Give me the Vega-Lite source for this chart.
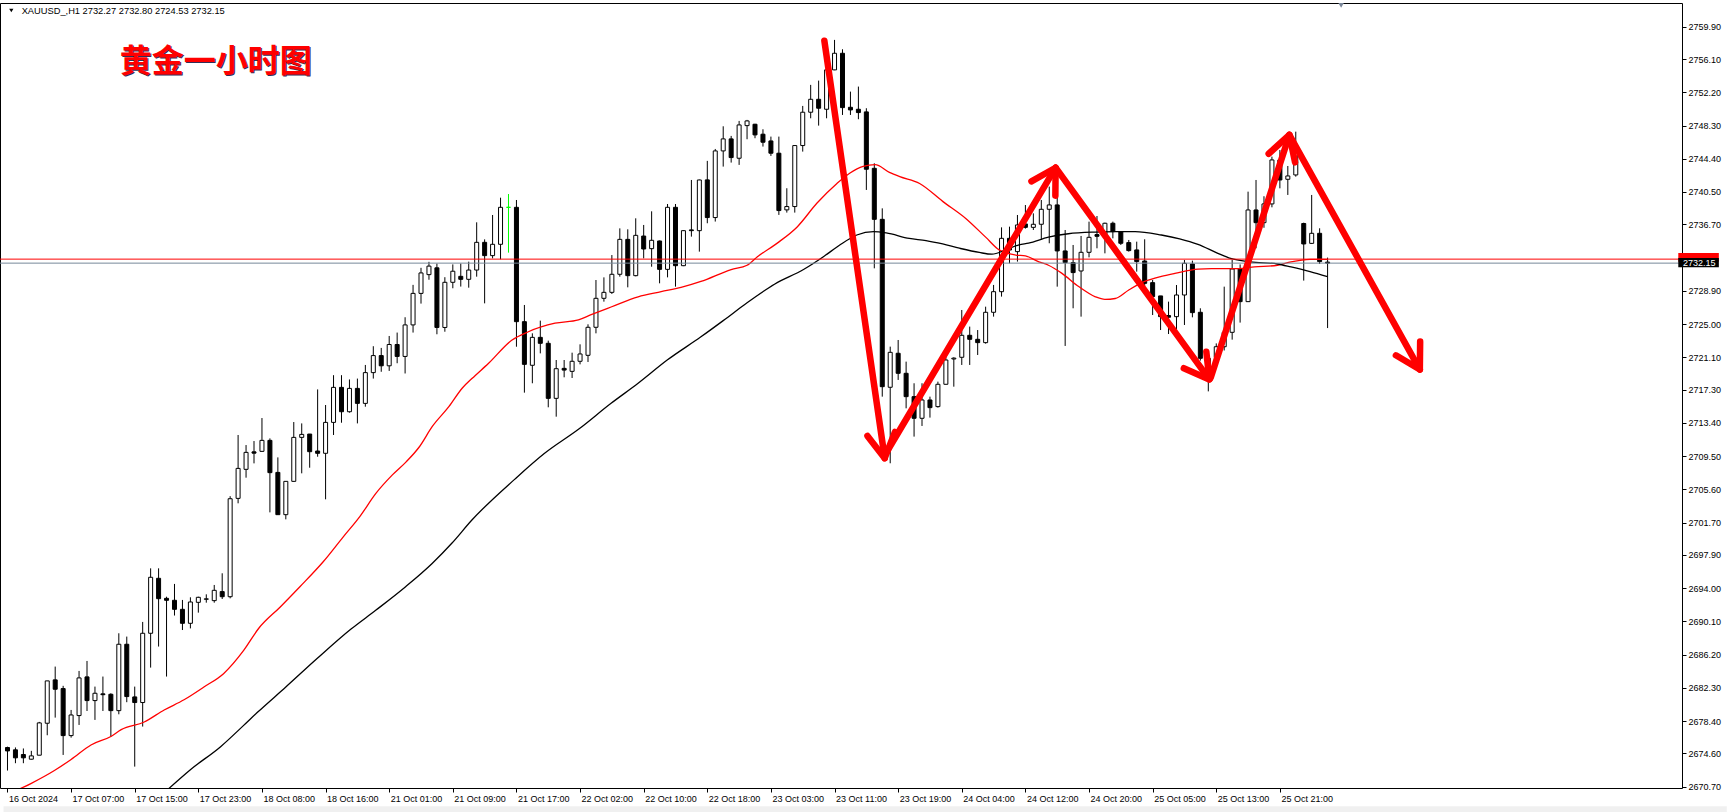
{
"$schema": "https://vega.github.io/schema/vega-lite/v6.json",
"width": 1682, "height": 785,
"autosize": {"type": "none"},
"padding": {"left": 0, "top": 3, "right": 48, "bottom": 24},
"background": "white",
"view": {"stroke": "black", "strokeWidth": 1},
"config": {
"axis": {"grid": false, "domain": false, "tickSize": 4, "tickColor": "black", "labelColor": "black", "labelFont": "Liberation Sans", "labelFontSize": 9, "labelOverlap": false, "labelFlush": false, "labelBound": false, "title": null},
"axisX": {"labelAlign": "left", "labelBaseline": "top", "labelPadding": 2, "labelOffset": 1},
"axisY": {"labelPadding": 2}
},
"datasets": {
"candles": [
{"k":0,"o":2675.3,"h":2675.4,"l":2672.6,"c":2674.9},
{"k":1,"o":2675.03,"h":2675.31,"l":2673.46,"c":2674.09},
{"k":2,"o":2674.48,"h":2675.19,"l":2673.46,"c":2674.09},
{"k":3,"o":2673.93,"h":2674.91,"l":2673.9,"c":2674.32},
{"k":4,"o":2674.4,"h":2678.31,"l":2674.4,"c":2678.19},
{"k":5,"o":2678.15,"h":2683.12,"l":2676.74,"c":2683.12},
{"k":6,"o":2683.24,"h":2684.8,"l":2678.81,"c":2682.14},
{"k":7,"o":2682.22,"h":2682.54,"l":2674.43,"c":2676.7},
{"k":8,"o":2676.7,"h":2679.71,"l":2676.46,"c":2679.12},
{"k":9,"o":2679.05,"h":2684.29,"l":2677.95,"c":2683.47},
{"k":10,"o":2683.59,"h":2685.46,"l":2679.59,"c":2680.81},
{"k":11,"o":2680.81,"h":2682.45,"l":2678.54,"c":2681.67},
{"k":12,"o":2681.6,"h":2683.63,"l":2679.59,"c":2681.5},
{"k":13,"o":2681.55,"h":2681.67,"l":2676.58,"c":2679.63},
{"k":14,"o":2679.63,"h":2688.71,"l":2679.2,"c":2687.42},
{"k":15,"o":2687.42,"h":2688.32,"l":2680.62,"c":2681.28},
{"k":16,"o":2681.24,"h":2682.45,"l":2673.06,"c":2680.58},
{"k":17,"o":2680.58,"h":2690.04,"l":2677.76,"c":2688.71},
{"k":18,"o":2688.71,"h":2696.33,"l":2684.68,"c":2695.28},
{"k":19,"o":2695.16,"h":2696.33,"l":2687.15,"c":2692.77},
{"k":20,"o":2692.81,"h":2693.0,"l":2683.63,"c":2692.58},
{"k":21,"o":2692.58,"h":2694.5,"l":2690.79,"c":2691.52},
{"k":22,"o":2691.52,"h":2692.62,"l":2689.09,"c":2689.88},
{"k":23,"o":2689.88,"h":2692.93,"l":2689.28,"c":2692.38},
{"k":24,"o":2692.34,"h":2693.0,"l":2691.13,"c":2692.93},
{"k":25,"o":2692.7,"h":2693.28,"l":2692.3,"c":2692.75},
{"k":26,"o":2692.54,"h":2694.38,"l":2692.3,"c":2693.75},
{"k":27,"o":2693.6,"h":2695.75,"l":2692.73,"c":2693.0},
{"k":28,"o":2693.0,"h":2704.8,"l":2692.81,"c":2704.5},
{"k":29,"o":2704.54,"h":2711.98,"l":2703.96,"c":2708.06},
{"k":30,"o":2707.95,"h":2710.8,"l":2706.97,"c":2709.94},
{"k":31,"o":2710.0,"h":2711.27,"l":2708.65,"c":2709.85},
{"k":32,"o":2710.06,"h":2713.97,"l":2710.0,"c":2711.35},
{"k":33,"o":2711.35,"h":2711.58,"l":2702.9,"c":2707.56},
{"k":34,"o":2707.59,"h":2709.35,"l":2702.63,"c":2702.63},
{"k":35,"o":2702.63,"h":2706.54,"l":2702.08,"c":2706.54},
{"k":36,"o":2706.54,"h":2713.5,"l":2706.5,"c":2711.7},
{"k":37,"o":2711.7,"h":2713.34,"l":2707.48,"c":2712.05},
{"k":38,"o":2712.09,"h":2712.1,"l":2708.14,"c":2710.02},
{"k":39,"o":2710.1,"h":2717.33,"l":2709.43,"c":2709.83},
{"k":40,"o":2709.83,"h":2715.5,"l":2704.43,"c":2713.46},
{"k":41,"o":2713.46,"h":2719.0,"l":2711.98,"c":2717.57},
{"k":42,"o":2717.57,"h":2719.0,"l":2713.42,"c":2714.71},
{"k":43,"o":2714.71,"h":2718.5,"l":2714.6,"c":2717.45},
{"k":44,"o":2717.45,"h":2718.6,"l":2713.34,"c":2715.69},
{"k":45,"o":2715.69,"h":2720.2,"l":2715.3,"c":2719.3},
{"k":46,"o":2719.3,"h":2722.4,"l":2718.6,"c":2721.3},
{"k":47,"o":2721.3,"h":2722.2,"l":2719.4,"c":2720.1},
{"k":48,"o":2720.1,"h":2723.6,"l":2719.5,"c":2722.6},
{"k":49,"o":2722.6,"h":2724.0,"l":2720.4,"c":2721.2},
{"k":50,"o":2721.2,"h":2725.8,"l":2719.2,"c":2724.9},
{"k":51,"o":2724.9,"h":2729.6,"l":2724.0,"c":2728.6},
{"k":52,"o":2728.6,"h":2731.6,"l":2727.4,"c":2731.0},
{"k":53,"o":2730.8,"h":2732.3,"l":2730.2,"c":2731.8},
{"k":54,"o":2731.6,"h":2732.1,"l":2723.8,"c":2724.6},
{"k":55,"o":2724.6,"h":2730.5,"l":2724.1,"c":2729.9},
{"k":56,"o":2729.9,"h":2732.0,"l":2729.2,"c":2731.2},
{"k":57,"o":2730.6,"h":2732.1,"l":2729.4,"c":2730.25},
{"k":58,"o":2730.25,"h":2732.32,"l":2729.27,"c":2731.34},
{"k":59,"o":2731.34,"h":2736.94,"l":2730.56,"c":2734.59},
{"k":60,"o":2734.59,"h":2734.94,"l":2727.43,"c":2733.03},
{"k":61,"o":2733.03,"h":2737.8,"l":2732.71,"c":2734.36},
{"k":62,"o":2734.36,"h":2739.83,"l":2732.6,"c":2738.7},
{"k":63,"o":2738.7,"h":2740.26,"l":2733.38,"c":2738.7},
{"k":64,"o":2738.7,"h":2739.56,"l":2722.34,"c":2725.28},
{"k":65,"o":2725.28,"h":2727.24,"l":2716.95,"c":2720.27},
{"k":66,"o":2720.16,"h":2723.91,"l":2718.05,"c":2723.44},
{"k":67,"o":2723.44,"h":2725.4,"l":2721.56,"c":2722.74},
{"k":68,"o":2722.74,"h":2723.05,"l":2715.23,"c":2716.28},
{"k":69,"o":2716.28,"h":2720.78,"l":2714.13,"c":2719.76},
{"k":70,"o":2719.8,"h":2720.78,"l":2718.75,"c":2719.6},
{"k":71,"o":2719.45,"h":2721.64,"l":2718.67,"c":2720.63},
{"k":72,"o":2720.63,"h":2722.62,"l":2720.27,"c":2721.49},
{"k":73,"o":2721.33,"h":2724.97,"l":2720.55,"c":2724.62},
{"k":74,"o":2724.62,"h":2730.17,"l":2723.91,"c":2728.02},
{"k":75,"o":2728.02,"h":2730.48,"l":2727.63,"c":2728.72},
{"k":76,"o":2728.72,"h":2733.1,"l":2728.53,"c":2730.84},
{"k":77,"o":2730.84,"h":2736.23,"l":2730.56,"c":2734.94},
{"k":78,"o":2734.94,"h":2736.12,"l":2729.31,"c":2730.68},
{"k":79,"o":2730.68,"h":2737.41,"l":2730.6,"c":2735.41},
{"k":80,"o":2735.33,"h":2736.63,"l":2732.71,"c":2733.81},
{"k":81,"o":2733.85,"h":2738.23,"l":2731.73,"c":2734.83},
{"k":82,"o":2734.75,"h":2734.8,"l":2729.78,"c":2731.42},
{"k":83,"o":2731.42,"h":2739.09,"l":2730.48,"c":2738.7},
{"k":84,"o":2738.7,"h":2739.09,"l":2729.39,"c":2731.85},
{"k":85,"o":2731.85,"h":2736.0,"l":2731.8,"c":2735.96},
{"k":86,"o":2736.05,"h":2741.91,"l":2735.26,"c":2735.96},
{"k":87,"o":2735.96,"h":2741.95,"l":2733.5,"c":2741.91},
{"k":88,"o":2741.92,"h":2744.15,"l":2736.83,"c":2737.5},
{"k":89,"o":2737.5,"h":2745.55,"l":2737.03,"c":2745.32},
{"k":90,"o":2745.32,"h":2748.21,"l":2743.48,"c":2746.73},
{"k":91,"o":2746.73,"h":2747.08,"l":2743.95,"c":2744.54},
{"k":92,"o":2744.46,"h":2748.84,"l":2743.68,"c":2748.37},
{"k":93,"o":2748.29,"h":2748.96,"l":2746.69,"c":2748.84},
{"k":94,"o":2748.45,"h":2748.5,"l":2746.81,"c":2747.2},
{"k":95,"o":2747.28,"h":2747.86,"l":2745.83,"c":2746.34},
{"k":96,"o":2746.49,"h":2747.0,"l":2744.73,"c":2745.05},
{"k":97,"o":2745.05,"h":2747.0,"l":2737.81,"c":2738.32},
{"k":98,"o":2738.4,"h":2740.94,"l":2738.08,"c":2738.79},
{"k":99,"o":2738.79,"h":2746.0,"l":2738.08,"c":2745.95},
{"k":100,"o":2745.95,"h":2750.6,"l":2745.24,"c":2749.86},
{"k":101,"o":2749.86,"h":2753.07,"l":2749.15,"c":2751.38},
{"k":102,"o":2751.38,"h":2753.57,"l":2748.29,"c":2750.33},
{"k":103,"o":2750.21,"h":2755.5,"l":2749.15,"c":2754.83},
{"k":104,"o":2754.83,"h":2758.35,"l":2754.8,"c":2756.78},
{"k":105,"o":2756.78,"h":2757.25,"l":2749.54,"c":2750.4},
{"k":106,"o":2750.44,"h":2752.28,"l":2749.54,"c":2750.13},
{"k":107,"o":2750.21,"h":2752.87,"l":2749.04,"c":2749.82},
{"k":108,"o":2749.9,"h":2750.33,"l":2740.74,"c":2743.17},
{"k":109,"o":2743.28,"h":2743.87,"l":2731.54,"c":2737.29},
{"k":110,"o":2737.29,"h":2738.58,"l":2716.48,"c":2717.65},
{"k":111,"o":2717.58,"h":2722.35,"l":2708.66,"c":2721.68},
{"k":112,"o":2721.57,"h":2723.13,"l":2718.44,"c":2719.22},
{"k":113,"o":2719.22,"h":2720.59,"l":2715.11,"c":2716.48},
{"k":114,"o":2716.48,"h":2718.05,"l":2711.79,"c":2713.94},
{"k":115,"o":2713.94,"h":2718.05,"l":2713.04,"c":2716.09},
{"k":116,"o":2716.09,"h":2716.48,"l":2714.02,"c":2715.19},
{"k":117,"o":2715.31,"h":2718.24,"l":2715.19,"c":2717.93},
{"k":118,"o":2717.93,"h":2721.57,"l":2717.9,"c":2720.78},
{"k":119,"o":2720.9,"h":2721.1,"l":2717.65,"c":2721.0},
{"k":120,"o":2721.1,"h":2726.65,"l":2720.2,"c":2723.68},
{"k":121,"o":2723.68,"h":2724.7,"l":2720.2,"c":2723.21},
{"k":122,"o":2723.21,"h":2724.3,"l":2721.37,"c":2722.82},
{"k":123,"o":2722.82,"h":2727.04,"l":2722.7,"c":2726.38},
{"k":124,"o":2726.38,"h":2729.59,"l":2725.87,"c":2728.8},
{"k":125,"o":2728.8,"h":2736.35,"l":2728.22,"c":2735.06},
{"k":126,"o":2735.06,"h":2736.43,"l":2732.13,"c":2733.69},
{"k":127,"o":2733.5,"h":2737.8,"l":2732.33,"c":2736.63},
{"k":128,"o":2736.75,"h":2738.97,"l":2736.2,"c":2736.35},
{"k":129,"o":2736.35,"h":2737.99,"l":2736.04,"c":2736.71},
{"k":130,"o":2736.71,"h":2739.56,"l":2734.87,"c":2738.47},
{"k":131,"o":2738.47,"h":2741.13,"l":2734.48,"c":2738.98},
{"k":132,"o":2738.98,"h":2742.5,"l":2729.39,"c":2733.58},
{"k":133,"o":2733.58,"h":2736.04,"l":2722.43,"c":2732.21},
{"k":134,"o":2732.21,"h":2734.28,"l":2726.85,"c":2731.04},
{"k":135,"o":2731.23,"h":2735.34,"l":2725.87,"c":2733.42},
{"k":136,"o":2733.42,"h":2737.02,"l":2732.83,"c":2735.18},
{"k":137,"o":2735.5,"h":2737.68,"l":2733.89,"c":2735.3},
{"k":138,"o":2735.46,"h":2736.9,"l":2733.3,"c":2736.83},
{"k":139,"o":2736.83,"h":2737.02,"l":2735.06,"c":2735.85},
{"k":140,"o":2735.85,"h":2735.9,"l":2734.28,"c":2734.48},
{"k":141,"o":2734.56,"h":2734.87,"l":2733.5,"c":2733.62},
{"k":142,"o":2733.7,"h":2734.67,"l":2731.15,"c":2732.33},
{"k":143,"o":2732.4,"h":2734.95,"l":2729.47,"c":2729.78},
{"k":144,"o":2729.86,"h":2730.17,"l":2726.06,"c":2728.22},
{"k":145,"o":2728.3,"h":2728.3,"l":2724.3,"c":2725.87},
{"k":146,"o":2726.0,"h":2727.63,"l":2723.83,"c":2725.8},
{"k":147,"o":2725.87,"h":2729.58,"l":2723.91,"c":2728.41},
{"k":148,"o":2728.41,"h":2732.52,"l":2724.89,"c":2732.13},
{"k":149,"o":2732.05,"h":2732.44,"l":2725.79,"c":2726.34},
{"k":150,"o":2726.38,"h":2726.85,"l":2720.71,"c":2720.98},
{"k":151,"o":2720.98,"h":2721.6,"l":2717.1,"c":2720.2},
{"k":152,"o":2721.09,"h":2722.73,"l":2719.9,"c":2722.34},
{"k":153,"o":2722.34,"h":2729.39,"l":2721.9,"c":2724.03},
{"k":154,"o":2724.03,"h":2732.52,"l":2723.17,"c":2731.46},
{"k":155,"o":2731.46,"h":2732.0,"l":2725.17,"c":2727.63},
{"k":156,"o":2727.63,"h":2740.54,"l":2727.6,"c":2738.39},
{"k":157,"o":2738.39,"h":2741.91,"l":2733.89,"c":2736.9},
{"k":158,"o":2736.9,"h":2740.0,"l":2736.3,"c":2739.1},
{"k":159,"o":2739.1,"h":2744.65,"l":2738.7,"c":2744.26},
{"k":160,"o":2744.26,"h":2745.43,"l":2740.93,"c":2741.91},
{"k":161,"o":2741.99,"h":2743.55,"l":2740.15,"c":2742.38},
{"k":162,"o":2742.5,"h":2747.58,"l":2742.3,"c":2745.82},
{"k":163,"o":2736.8,"h":2736.9,"l":2730.1,"c":2734.4},
{"k":164,"o":2734.47,"h":2740.15,"l":2734.4,"c":2735.65},
{"k":165,"o":2735.65,"h":2736.24,"l":2732.05,"c":2732.33},
{"k":166,"o":2732.27,"h":2732.8,"l":2724.53,"c":2732.15}
],
"ma": [
{"s":"red","k":0,"p":2669.8},{"s":"red","k":3,"p":2671.1},{"s":"red","k":5.9,"p":2672.6},{"s":"red","k":8,"p":2673.9},{"s":"red","k":10.5,"p":2675.6},{"s":"red","k":13,"p":2676.6},{"s":"red","k":14.3,"p":2677.4},{"s":"red","k":17.2,"p":2678.3},{"s":"red","k":19.7,"p":2679.7},{"s":"red","k":22.2,"p":2680.9},{"s":"red","k":24.7,"p":2682.4},{"s":"red","k":27.2,"p":2684.0},{"s":"red","k":29.7,"p":2686.7},{"s":"red","k":31.6,"p":2689.3},{"s":"red","k":34.3,"p":2691.8},{"s":"red","k":36.8,"p":2694.2},{"s":"red","k":39.7,"p":2697.1},{"s":"red","k":42.2,"p":2700.0},{"s":"red","k":44.3,"p":2702.4},{"s":"red","k":46.3,"p":2705.1},{"s":"red","k":48.4,"p":2707.3},{"s":"red","k":50.1,"p":2708.8},{"s":"red","k":51.8,"p":2710.6},{"s":"red","k":53.4,"p":2712.95},{"s":"red","k":55.5,"p":2715.3},{"s":"red","k":57.2,"p":2717.5},{"s":"red","k":58.4,"p":2718.6},{"s":"red","k":60.5,"p":2720.4},{"s":"red","k":63.4,"p":2723.1},{"s":"red","k":65.5,"p":2724.1},{"s":"red","k":68.85,"p":2725.1},{"s":"red","k":71.8,"p":2725.5},{"s":"red","k":73.4,"p":2726.1},{"s":"red","k":75.9,"p":2727.0},{"s":"red","k":79.3,"p":2728.2},{"s":"red","k":82.2,"p":2728.8},{"s":"red","k":84.7,"p":2729.3},{"s":"red","k":87.2,"p":2730.0},{"s":"red","k":91,"p":2731.4},{"s":"red","k":93,"p":2731.9},{"s":"red","k":94.3,"p":2732.9},{"s":"red","k":96.8,"p":2734.5},{"s":"red","k":99.3,"p":2736.4},{"s":"red","k":101.8,"p":2739.2},{"s":"red","k":104.3,"p":2741.5},{"s":"red","k":105.9,"p":2742.7},{"s":"red","k":107.6,"p":2743.5},{"s":"red","k":109.1,"p":2743.7},{"s":"red","k":110.9,"p":2742.8},{"s":"red","k":112.2,"p":2742.3},{"s":"red","k":114.7,"p":2741.5},{"s":"red","k":117.6,"p":2739.4},{"s":"red","k":120.5,"p":2737.4},{"s":"red","k":123,"p":2735.2},{"s":"red","k":124.7,"p":2733.7},{"s":"red","k":126.8,"p":2733.1},{"s":"red","k":128,"p":2733.0},{"s":"red","k":129.7,"p":2732.3},{"s":"red","k":130.9,"p":2731.9},{"s":"red","k":132.6,"p":2730.95},{"s":"red","k":134.7,"p":2729.4},{"s":"red","k":136.8,"p":2728.2},{"s":"red","k":138,"p":2727.9},{"s":"red","k":139.3,"p":2728.0},{"s":"red","k":141,"p":2729.0},{"s":"red","k":143,"p":2730.0},{"s":"red","k":145.1,"p":2730.6},{"s":"red","k":146.8,"p":2730.95},{"s":"red","k":149.7,"p":2731.45},{"s":"red","k":151.4,"p":2731.5},{"s":"red","k":154.7,"p":2731.5},{"s":"red","k":156.8,"p":2731.7},{"s":"red","k":159.7,"p":2731.9},{"s":"red","k":161.4,"p":2732.3},{"s":"red","k":163.8,"p":2732.6},{"s":"red","k":166,"p":2732.6},
{"s":"black","k":20.3,"p":2670.5},{"s":"black","k":23,"p":2672.7},{"s":"black","k":26.8,"p":2675.4},{"s":"black","k":29.7,"p":2677.9},{"s":"black","k":31.4,"p":2679.4},{"s":"black","k":35,"p":2682.4},{"s":"black","k":39,"p":2685.8},{"s":"black","k":43.2,"p":2689.2},{"s":"black","k":46.3,"p":2691.4},{"s":"black","k":50.1,"p":2694.2},{"s":"black","k":53.4,"p":2696.9},{"s":"black","k":55.9,"p":2699.3},{"s":"black","k":58.4,"p":2702.0},{"s":"black","k":63.8,"p":2706.8},{"s":"black","k":67.5,"p":2709.8},{"s":"black","k":71.8,"p":2712.65},{"s":"black","k":75.9,"p":2715.7},{"s":"black","k":79.3,"p":2718.05},{"s":"black","k":83,"p":2720.8},{"s":"black","k":87.2,"p":2723.5},{"s":"black","k":90,"p":2725.4},{"s":"black","k":93,"p":2727.5},{"s":"black","k":96.5,"p":2729.7},{"s":"black","k":100.1,"p":2731.4},{"s":"black","k":102.6,"p":2732.9},{"s":"black","k":104.7,"p":2734.3},{"s":"black","k":106.8,"p":2735.45},{"s":"black","k":108.9,"p":2735.85},{"s":"black","k":110.5,"p":2735.7},{"s":"black","k":113.4,"p":2735.05},{"s":"black","k":115.5,"p":2734.8},{"s":"black","k":117.6,"p":2734.4},{"s":"black","k":119.7,"p":2733.9},{"s":"black","k":122.2,"p":2733.4},{"s":"black","k":123.8,"p":2733.2},{"s":"black","k":125.5,"p":2733.7},{"s":"black","k":127.2,"p":2734.3},{"s":"black","k":128.4,"p":2734.5},{"s":"black","k":130.9,"p":2735.2},{"s":"black","k":133.4,"p":2735.6},{"s":"black","k":136.8,"p":2735.8},{"s":"black","k":139.3,"p":2735.85},{"s":"black","k":141.8,"p":2735.85},{"s":"black","k":145.1,"p":2735.45},{"s":"black","k":147.4,"p":2735.0},{"s":"black","k":149.7,"p":2734.35},{"s":"black","k":152.2,"p":2733.3},{"s":"black","k":153.8,"p":2732.7},{"s":"black","k":156.3,"p":2732.3},{"s":"black","k":159.7,"p":2732.05},{"s":"black","k":161.4,"p":2731.7},{"s":"black","k":163.8,"p":2731.15},{"s":"black","k":166,"p":2730.55}
],
"arrows": [
{"g":"a1","i":0,"k":102.72,"p":2758.25},{"g":"a1","i":1,"k":110.31,"p":2709.26},
{"g":"a2","i":0,"k":110.5,"p":2709.9},{"g":"a2","i":1,"k":131.8,"p":2743.35},
{"g":"a3","i":0,"k":131.8,"p":2743.35},{"g":"a3","i":1,"k":151.13,"p":2718.5},
{"g":"a4","i":0,"k":151.3,"p":2718.7},{"g":"a4","i":1,"k":161.19,"p":2747.2},
{"g":"a5","i":0,"k":161.19,"p":2747.2},{"g":"a5","i":1,"k":177.6,"p":2719.66},
{"g":"h1","i":0,"k":111.6,"p":2712.34},{"g":"h1","i":1,"k":110.31,"p":2709.26},{"g":"h1","i":2,"k":108.14,"p":2711.87},
{"g":"h2","i":0,"k":128.76,"p":2741.74},{"g":"h2","i":1,"k":131.8,"p":2743.35},{"g":"h2","i":2,"k":131.77,"p":2740.07},
{"g":"h3","i":0,"k":150.75,"p":2721.76},{"g":"h3","i":1,"k":151.13,"p":2718.5},{"g":"h3","i":2,"k":147.92,"p":2719.82},
{"g":"h4","i":0,"k":158.59,"p":2744.99},{"g":"h4","i":1,"k":161.19,"p":2747.2},{"g":"h4","i":2,"k":161.91,"p":2743.97},
{"g":"h5","i":0,"k":177.64,"p":2722.94},{"g":"h5","i":1,"k":177.6,"p":2719.66},{"g":"h5","i":2,"k":174.59,"p":2721.33}
],
"one": [{}]
},
"layer": [
{
"data": {"name": "one"},
"mark": {"type": "rect", "color": "#F0F0F0", "clip": false},
"encoding": {"x": {"datum": -0.5, "type": "quantitative"}, "x2": {"datum": 216.2}, "y": {"datum": 2668.4, "type": "quantitative"}, "y2": {"datum": 2667.5}}
},
{
"data": {"name": "candles"},
"mark": {"type": "rule", "strokeWidth": 1},
"encoding": {
"x": {"field": "k", "type": "quantitative", "title": null,
"scale": {"domain": [-0.3125, 209.9375], "nice": false, "zero": false},
"axis": {"values": [0,8,16,24,32,40,48,56,64,72,80,88,96,104,112,120,128,136,144,152,160], "tickCount": 100,
"labelExpr": "['16 Oct 2024','17 Oct 07:00','17 Oct 15:00','17 Oct 23:00','18 Oct 08:00','18 Oct 16:00','21 Oct 01:00','21 Oct 09:00','21 Oct 17:00','22 Oct 02:00','22 Oct 10:00','22 Oct 18:00','23 Oct 03:00','23 Oct 11:00','23 Oct 19:00','24 Oct 04:00','24 Oct 12:00','24 Oct 20:00','25 Oct 05:00','25 Oct 13:00','25 Oct 21:00'][round(datum.value/8)]"}},
"y": {"field": "l", "type": "quantitative", "title": null,
"scale": {"domain": [2670.55, 2762.68], "nice": false, "zero": false},
"axis": {"orient": "right", "tickCount": 100, "values": [2759.9,2756.1,2752.2,2748.3,2744.4,2740.5,2736.7,2728.9,2725.0,2721.1,2717.3,2713.4,2709.5,2705.6,2701.7,2697.9,2694.0,2690.1,2686.2,2682.3,2678.4,2674.6,2670.7], "format": ".2f"}},
"y2": {"field": "h"},
"color": {"condition": {"test": "datum.o == datum.c", "value": "#00FF00"}, "value": "black"}
}
},
{
"data": {"name": "candles"},
"mark": {"type": "bar", "size": 4, "strokeWidth": 1},
"encoding": {
"x": {"field": "k", "type": "quantitative", "title": null},
"y": {"field": "o", "type": "quantitative", "title": null},
"y2": {"field": "c"},
"fill": {"condition": {"test": "datum.c > datum.o", "value": "white"}, "value": "black"},
"stroke": {"condition": {"test": "datum.o == datum.c", "value": "#00FF00"}, "value": "black"}
}
},
{
"data": {"name": "ma"},
"mark": {"type": "line", "strokeWidth": 1.3, "clip": true, "interpolate": "monotone"},
"encoding": {
"x": {"field": "k", "type": "quantitative", "title": null},
"y": {"field": "p", "type": "quantitative", "title": null},
"detail": {"field": "s"},
"color": {"field": "s", "type": "nominal", "scale": {"domain": ["red","black"], "range": ["#FF0000","#000000"]}, "legend": null}
}
},
{
"data": {"name": "one"},
"mark": {"type": "rule", "color": "#FF0000", "strokeWidth": 1},
"encoding": {"y": {"datum": 2732.62, "type": "quantitative"}}
},
{
"data": {"name": "one"},
"mark": {"type": "rule", "color": "#778899", "strokeWidth": 1},
"encoding": {"y": {"datum": 2732.15, "type": "quantitative"}}
},
{
"data": {"name": "arrows"},
"mark": {"type": "line", "color": "#FF0000", "strokeWidth": 6.5, "strokeCap": "round", "strokeJoin": "round"},
"encoding": {
"x": {"field": "k", "type": "quantitative", "title": null},
"y": {"field": "p", "type": "quantitative", "title": null},
"detail": {"field": "g"},
"order": {"field": "i"}
}
},
{
"data": {"name": "one"},
"mark": {"type": "text", "text": "黄金一小时图", "font": "Noto Sans CJK SC", "fontSize": 32, "fontWeight": "bold", "color": "#30305A", "align": "center", "baseline": "middle", "dx": 1, "dy": 1},
"encoding": {"x": {"datum": 26.2, "type": "quantitative"}, "y": {"datum": 2755.8, "type": "quantitative"}}
},
{
"data": {"name": "one"},
"mark": {"type": "text", "text": "黄金一小时图", "font": "Noto Sans CJK SC", "fontSize": 32, "fontWeight": "bold", "color": "#FF0000", "align": "center", "baseline": "middle"},
"encoding": {"x": {"datum": 26.2, "type": "quantitative"}, "y": {"datum": 2755.8, "type": "quantitative"}}
},
{
"data": {"name": "one"},
"mark": {"type": "text", "text": "XAUUSD_,H1  2732.27 2732.80 2724.53 2732.15", "font": "Liberation Sans", "fontSize": 9.3, "color": "black", "align": "left", "baseline": "middle"},
"encoding": {"x": {"datum": 1.78, "type": "quantitative"}, "y": {"datum": 2761.74, "type": "quantitative"}}
},
{
"data": {"name": "one"},
"mark": {"type": "point", "shape": "triangle-down", "size": 18, "filled": true, "color": "black", "opacity": 1},
"encoding": {"x": {"datum": 0.48, "type": "quantitative"}, "y": {"datum": 2761.8, "type": "quantitative"}}
},
{
"data": {"name": "one"},
"mark": {"type": "point", "shape": "triangle-down", "size": 30, "filled": true, "color": "#7A8699", "opacity": 1, "clip": false},
"encoding": {"x": {"datum": 167.7, "type": "quantitative"}, "y": {"datum": 2762.4, "type": "quantitative"}}
},
{
"data": {"name": "one"},
"mark": {"type": "rect", "color": "#FF0000", "clip": false},
"encoding": {"x": {"datum": 210.1, "type": "quantitative"}, "x2": {"datum": 215.2}, "y": {"datum": 2732.3, "type": "quantitative"}, "y2": {"datum": 2733.35}}
},
{
"data": {"name": "one"},
"mark": {"type": "rect", "color": "black", "clip": false},
"encoding": {"x": {"datum": 210.1, "type": "quantitative"}, "x2": {"datum": 215.2}, "y": {"datum": 2731.66, "type": "quantitative"}, "y2": {"datum": 2732.76}}
},
{
"data": {"name": "one"},
"mark": {"type": "text", "text": "2732.15", "font": "Liberation Sans", "fontSize": 9, "color": "white", "align": "left", "baseline": "middle", "clip": false},
"encoding": {"x": {"datum": 210.7, "type": "quantitative"}, "y": {"datum": 2732.2, "type": "quantitative"}}
}
]
}
